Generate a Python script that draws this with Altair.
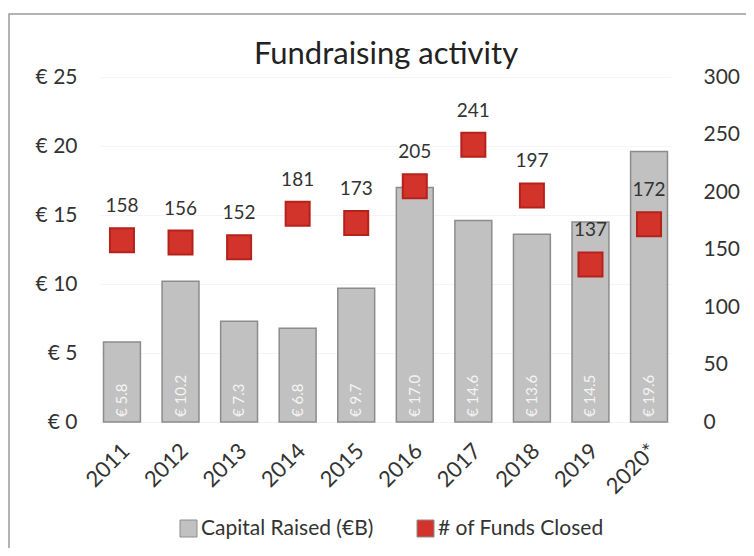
import altair as alt
import pandas as pd

years = ["2011", "2012", "2013", "2014", "2015", "2016", "2017", "2018", "2019", "2020*"]
capital = [5.8, 10.2, 7.3, 6.8, 9.7, 17.0, 14.6, 13.6, 14.5, 19.6]
funds = [158, 156, 152, 181, 173, 205, 241, 197, 137, 172]
cap_name = "Capital Raised (€B)"
fund_name = "# of Funds Closed"
left_ticks = [0, 5, 10, 15, 20, 25]
right_ticks = [0, 50, 100, 150, 200, 250, 300]

df = pd.DataFrame({"year": years, "capital": capital, "funds": funds})
df["cap_label"] = ["€ " + f"{v:.1f}" for v in capital]
df["cap_series"] = cap_name
df["fund_series"] = fund_name
df["zero"] = 0

FONT = "Lato"
TXT = "#333333"
x = alt.X("year:N", sort=years, title=None,
          scale=alt.Scale(paddingInner=0.37, paddingOuter=0.06),
          axis=alt.Axis(labelAngle=-45, labelFontSize=22, labelColor=TXT,
                        labelFont=FONT, ticks=False, domain=False, labelPadding=18,
                        labelOffset=-3))

left_scale = alt.Scale(domain=[0, 25], nice=False)
left_axis = alt.Axis(values=left_ticks, labelExpr="'€ ' + datum.value",
                     labelFontSize=21, labelColor=TXT, labelFont=FONT,
                     ticks=False, domain=False, grid=True, gridColor="#f4f4f4",
                     labelPadding=23, title=None)
right_scale = alt.Scale(domain=[0, 300], nice=False)
right_axis = alt.Axis(orient="right", values=right_ticks,
                      labelFontSize=21, labelColor=TXT, labelFont=FONT,
                      ticks=False, domain=False, grid=False, labelPadding=32, title=None)

fill_scale = alt.Scale(domain=[cap_name, fund_name], range=["#c1c1c1", "#d2342c"])

bars = alt.Chart(df).mark_bar(stroke="#8c8c8c", strokeWidth=1.5).encode(
    x=x,
    y=alt.Y("capital:Q", title=None, scale=left_scale, axis=left_axis),
    fill=alt.Fill("cap_series:N", scale=fill_scale, title=None,
                  legend=alt.Legend(orient="none", direction="horizontal",
                                    legendX=78, legendY=441, symbolType="square",
                                    symbolSize=289, labelFontSize=21, labelFont=FONT,
                                    labelColor=TXT, columnPadding=41, labelLimit=400,
                                    labelOffset=2, symbolStrokeWidth=1)),
)

bar_text = alt.Chart(df).mark_text(angle=270, align="left", baseline="middle", dx=5,
                                   fontSize=15, font=FONT, color="#f4f4f4").encode(
    x=x,
    y=alt.Y("zero:Q", title=None, scale=left_scale, axis=left_axis),
    text="cap_label:N",
)

left = alt.layer(bars, bar_text)

points = alt.Chart(df).mark_point(shape="square", filled=True, size=576,
                                  stroke="#b5221b", strokeWidth=2, opacity=1).encode(
    x=x,
    y=alt.Y("funds:Q", title=None, scale=right_scale, axis=right_axis),
    fill=alt.Fill("fund_series:N", scale=fill_scale, title=None),
)

point_text = alt.Chart(df).mark_text(dy=-34, fontSize=19, font=FONT, color=TXT).encode(
    x=x,
    y=alt.Y("funds:Q", title=None, scale=right_scale, axis=right_axis),
    text="funds:Q",
)

right = alt.layer(points, point_text)

frame_df = pd.DataFrame({"k": [0]})
frame = alt.Chart(frame_df).mark_rect(fill=None, stroke="#9a9a9a", strokeWidth=1.5).encode(
    x=alt.value(-91), x2=alt.value(652), y=alt.value(-63), y2=alt.value(480)
)
title = alt.Chart(frame_df).mark_text(fontSize=31, font=FONT, color="#222222",
                                      baseline="alphabetic").encode(
    x=alt.value(286), y=alt.value(-13), text=alt.value("Fundraising activity")
)

chart = alt.layer(left, right, frame, title).resolve_scale(y="independent").properties(
    width=571, height=345,
    autosize=alt.AutoSizeParams(type="none"),
    padding={"left": 92, "top": 69, "right": 75, "bottom": 126},
).configure(background="white").configure_view(stroke=None)

chart.save("out.html", embed_options={"renderer": "svg", "actions": False})
